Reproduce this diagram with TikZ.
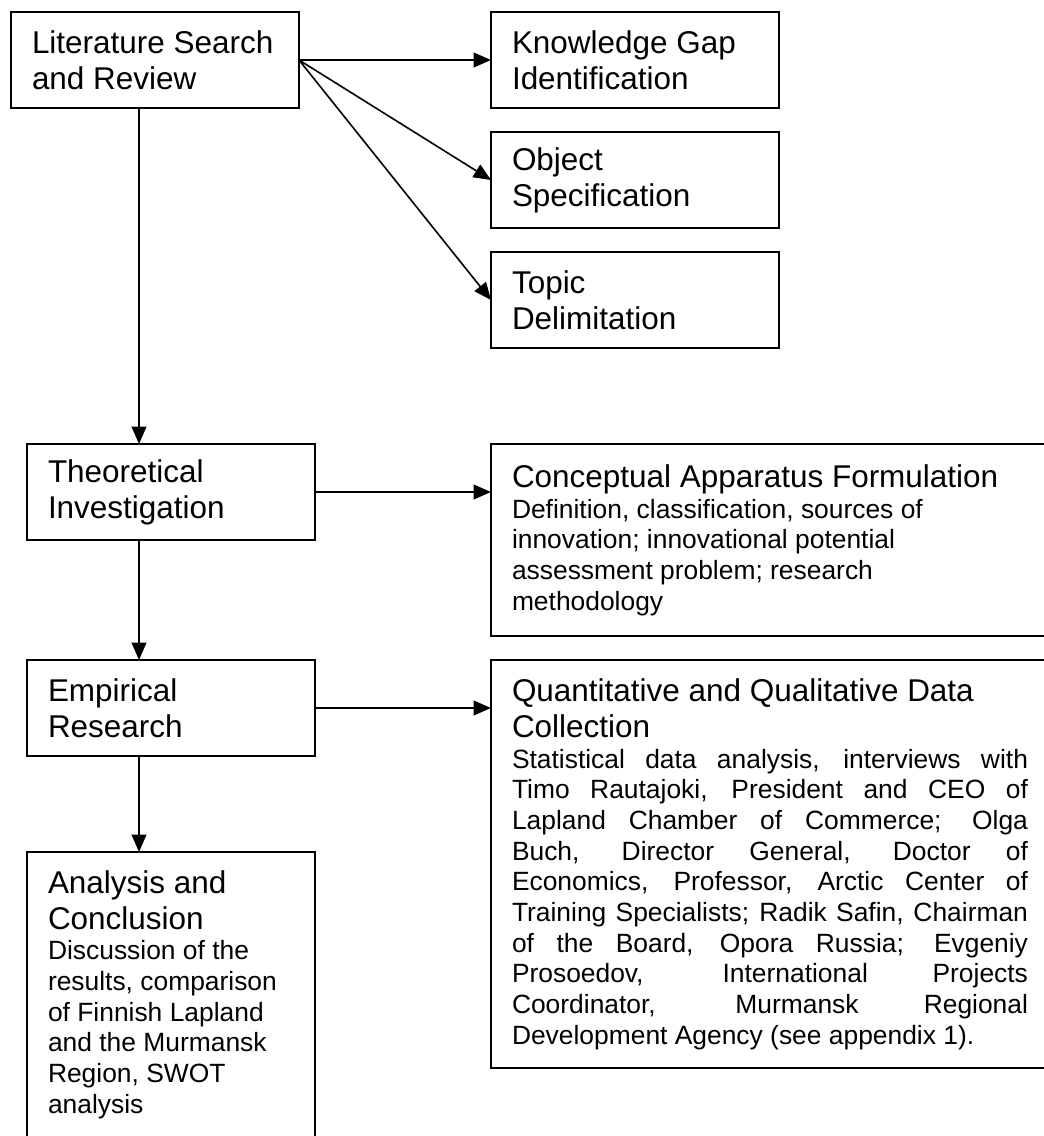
\documentclass[tikz,border=0pt]{standalone}
\usepackage{fontspec}
\setmainfont{Liberation Sans}
\usetikzlibrary{arrows.meta}
\newcommand{\titlesize}{\fontsize{23.6}{27}\selectfont}
\newcommand{\notesize}{\fontsize{19.8}{23}\selectfont}
\tolerance=10000
\hyphenpenalty=10000

\begin{document}
\begin{tikzpicture}[x=0.75pt, y=-0.75pt,
    stage/.style={draw, line width=1.2pt, anchor=north west, outer sep=0pt,
        text width=184.5pt, inner xsep=15.75pt, inner ysep=0pt,
        minimum height=72pt, align=flush left, font=\titlesize},
    widestage/.style={stage, text width=387pt},
    link/.style={line width=1.2pt, -{Triangle[length=13pt, width=11pt]}}]
    \useasboundingbox (0,0) rectangle (1044,1136);
    \fill[white] (0,0) rectangle (1044,1136);
    \coordinate (spine) at (139,0);
    \node[stage] (lit) at (11,12) {Literature Search\\and Review};
    \node[stage] (gap) at (491,12) {Knowledge Gap\\Identification};
    \node[stage] (obj) at (491,132) {Object\\Specification};
    \node[stage] (topic) at (491,252) {Topic\\Delimitation};
    \node[stage] (theo) at (27,444) {Theoretical\\Investigation};
    \node[widestage, minimum height=144pt] (concept) at (491,444) {Conceptual Apparatus Formulation\par
        \notesize Definition, classification, sources of\\innovation; innovational potential\\assessment problem; research\\methodology\par};
    \node[stage] (emp) at (27,660) {Empirical\\Research};
    \node[widestage, minimum height=306pt, align=justify] (quant) at (491,660) {Quantitative and Qualitative Data\\Collection\par
        \notesize Statistical data analysis, interviews with\linebreak
        Timo Rautajoki, President and CEO of\linebreak
        Lapland Chamber of Commerce; Olga\linebreak
        Buch, Director General, Doctor of\linebreak
        Economics, Professor, Arctic Center of\linebreak
        Training Specialists; Radik Safin, Chairman\linebreak
        of the Board, Opora Russia; Evgeniy\linebreak
        Prosoedov, International Projects\linebreak
        Coordinator, Murmansk Regional\linebreak
        Development Agency (see appendix 1).\par};
    \node[stage, minimum height=213.75pt] (anal) at (27,852) {Analysis and\\Conclusion\par
        \notesize Discussion of the\\results, comparison\\of Finnish Lapland\\and the Murmansk\\Region, SWOT\\analysis\par};
    \draw[link] (lit.east) -- (gap.west);
    \draw[link] (lit.east) -- (obj.west);
    \draw[link] (lit.east) -- (topic.west);
    \draw[link] (lit.south -| spine) -- (theo.north -| spine);
    \draw[link] (theo.east) -- (theo.east -| concept.west);
    \draw[link] (theo.south -| spine) -- (emp.north -| spine);
    \draw[link] (emp.east) -- (emp.east -| quant.west);
    \draw[link] (emp.south -| spine) -- (anal.north -| spine);
\end{tikzpicture}
\end{document}
